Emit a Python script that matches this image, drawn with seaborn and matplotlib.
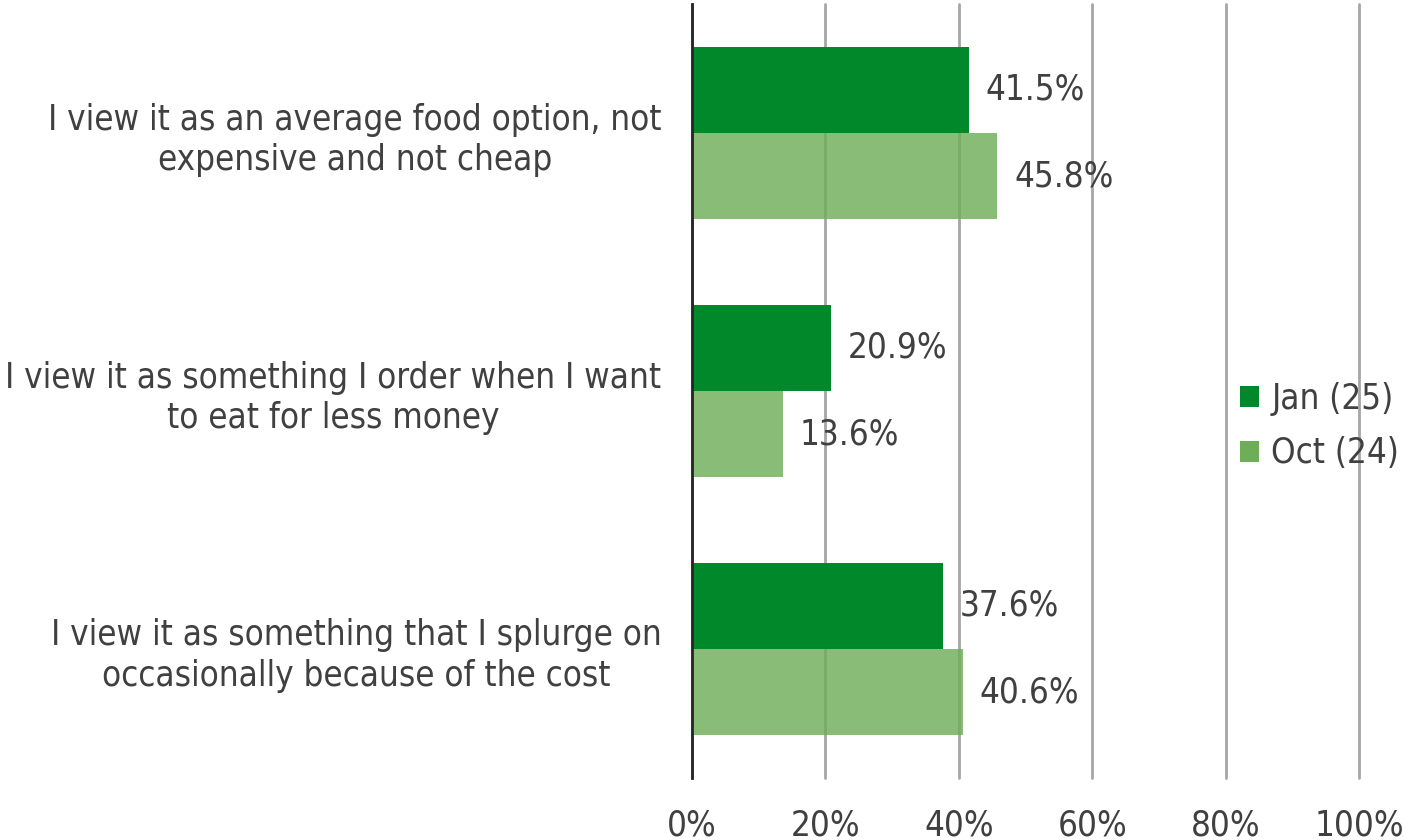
import matplotlib
matplotlib.use("Agg")
import matplotlib.pyplot as plt
import seaborn as sns
import pandas as pd

categories = [
    "I view it as an average food option, not\nexpensive and not cheap",
    "I view it as something I order when I want\nto eat for less money",
    "I view it as something that I splurge on\noccasionally because of the cost",
]
series_names = ["Jan (25)", "Oct (24)"]
jan_values = [41.5, 20.9, 37.6]
oct_values = [45.8, 13.6, 40.6]
x_ticks = [0, 20, 40, 60, 80, 100]

df = pd.DataFrame({
    "category": categories * 2,
    "wave": [series_names[0]] * 3 + [series_names[1]] * 3,
    "share": jan_values + oct_values,
})

sns.set_theme(style="white")
plt.rcParams["font.family"] = ["DejaVu Sans"]
plt.rcParams["font.stretch"] = "condensed"

text_color = "#404040"
grid_color = "#a6a6a6"
dark_green = "#00882b"
light_green = "#6fae59"
fs = 25

fig = plt.figure(figsize=(14.04, 8.40), dpi=100)
ax = fig.add_axes([692 / 1404, 1 - 778 / 840, (1359 - 692) / 1404, (778 - 4) / 840])

sns.barplot(
    data=df, x="share", y="category", hue="wave", hue_order=series_names,
    order=categories, orient="h", palette=[dark_green, light_green],
    width=0.667, saturation=1, ax=ax, legend=True, zorder=2, linewidth=0,
)

for patch in ax.containers[1]:
    patch.set_alpha(0.82)

for container in ax.containers:
    ax.bar_label(container, fmt="%.1f%%", padding=12, fontsize=fs,
                 color=text_color)

ax.set_xlim(0, 100)
ax.set_xticks(x_ticks)
ax.set_xticklabels([f"{t}%" for t in x_ticks])
ax.set_xlabel("")
ax.set_ylabel("")
ax.xaxis.grid(True, color=grid_color, linewidth=2, zorder=0)
ax.set_axisbelow(True)
for gl in ax.get_xgridlines():
    gl.set_clip_on(False)
for side in ["top", "right", "bottom"]:
    ax.spines[side].set_visible(False)
ax.spines["left"].set_color("#262626")
ax.spines["left"].set_linewidth(2)
ax.spines["left"].set_zorder(3)
ax.tick_params(axis="x", length=0, pad=22, labelsize=fs, labelcolor=text_color)
ax.tick_params(axis="y", length=0, pad=22, labelsize=fs, labelcolor=text_color)
for lbl in ax.get_yticklabels():
    lbl.set_multialignment("center")
    lbl.set_linespacing(1.25)

handles, labels = ax.get_legend_handles_labels()
ax.get_legend().remove()
fig.legend(handles, labels, loc="center left", bbox_to_anchor=(1240 / 1404, 1 - 426 / 840),
           frameon=False, fontsize=fs, labelcolor=text_color, handlelength=0.55,
           handleheight=0.55, handletextpad=0.35, labelspacing=0.6,
           borderpad=0, borderaxespad=0)

fig.savefig("out.png", dpi=100)
